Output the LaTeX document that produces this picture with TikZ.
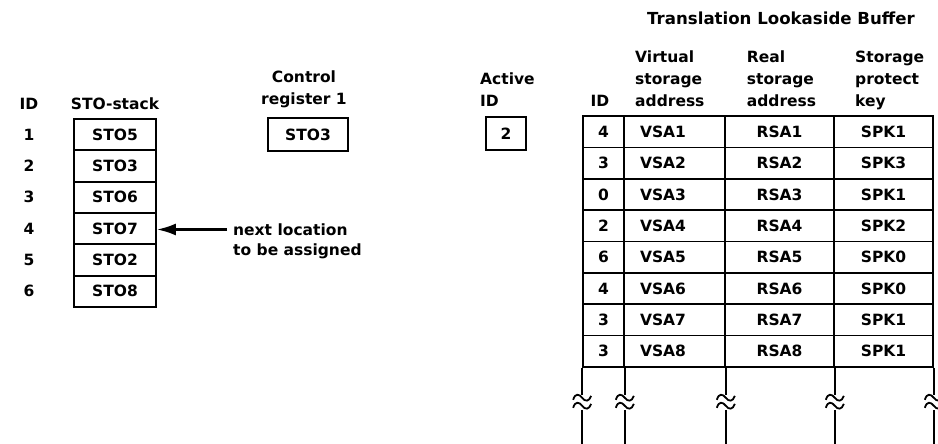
\documentclass[tikz,border=0pt]{standalone}
\usepackage{fontspec}
\setmainfont{DejaVu Sans}
\usetikzlibrary{arrows.meta}
\begin{document}
\begin{tikzpicture}[x=1pt,y=-1pt,
  every node/.style={font=\fontsize{15.5}{22}\selectfont\bfseries, inner sep=0pt},
  cell/.style={draw, line width=1.7pt, text height=11.3pt, text depth=0pt},
  stk/.style={cell, minimum width=82pt, minimum height=31.33pt},
  tid/.style={cell, minimum width=41pt, minimum height=31.375pt},
  tvsa/.style={cell, minimum width=101pt, minimum height=31.375pt, inner xsep=16pt, text width=69pt, align=left},
  trsa/.style={cell, minimum width=109pt, minimum height=31.375pt},
  tspk/.style={cell, minimum width=99pt, minimum height=31.375pt},
  hdr/.style={align=left, anchor=base west},
  ext/.style={line width=1.7pt},
  brk/.style={line width=1.8pt}
]
\useasboundingbox (0,0) rectangle (938,444);

% Left ID column and STO-stack
\node[anchor=base] (idl) at (29,110) {ID};
\node[anchor=base] (stoh) at (115,110) {STO-stack};
\foreach \i/\t in {1/STO5,2/STO3,3/STO6,4/STO7,5/STO2,6/STO8}{
  \node[stk] (s\i) at (115,{119+31.33*(\i-0.5)}) {\t};
  \node[text height=11.3pt, text depth=0pt] (n\i) at (29,{119+31.33*(\i-0.5)}) {\i};
}

% Control register 1
\node[align=center, anchor=base] (crh) at (304,104.5) {Control\\register 1};
\node[cell, minimum width=80pt, minimum height=33pt] (cr) at (308,134.5) {STO3};

% Active ID
\node[hdr] (aidh) at (480,106.7) {Active\\ID};
\node[cell, minimum width=40pt, minimum height=33pt] (aid) at (506,133.5) {2};

% next location arrow
\node[hdr, font=\fontsize{15.5}{20}\selectfont\bfseries] (nl) at (233,255) {next location\\to be assigned};
\coordinate (nlpt) at (227,229.5);
\draw[line width=2.4pt, -{Latex[length=19pt,width=12pt]}] (nlpt) -- (nlpt -| s4.east);

% TLB
\node[anchor=base, font=\fontsize{16.6}{22}\selectfont\bfseries] (tlbt) at (781,25) {Translation Lookaside Buffer};
\node[anchor=base] (tidh) at (600,106.7) {ID};
\node[hdr] (vh) at (635,106.7) {Virtual\\storage\\address};
\node[hdr] (rh) at (746.7,106.7) {Real\\storage\\address};
\node[hdr] (kh) at (855,106.7) {Storage\\protect\\key};

\foreach \r/\a/\b/\c/\d in {1/4/VSA1/RSA1/SPK1,2/3/VSA2/RSA2/SPK3,3/0/VSA3/RSA3/SPK1,4/2/VSA4/RSA4/SPK2,5/6/VSA5/RSA5/SPK0,6/4/VSA6/RSA6/SPK0,7/3/VSA7/RSA7/SPK1,8/3/VSA8/RSA8/SPK1}{
  \node[tid]  (t\r a) at (603.5,{116+31.375*(\r-0.5)}) {\a};
  \node[tvsa] (t\r b) at (674.5,{116+31.375*(\r-0.5)}) {\b};
  \node[trsa] (t\r c) at (779.5,{116+31.375*(\r-0.5)}) {\c};
  \node[tspk] (t\r d) at (883.5,{116+31.375*(\r-0.5)}) {\d};
}

% continuation lines with break marks
\foreach \n in {t8a.south west, t8a.south east, t8b.south east, t8c.south east, t8d.south east}{
  \draw[ext] (\n) -- ++(0,27);
  \draw[ext] (\n) ++(0,42) -- ++(0,40);
  \draw[brk] (\n) ++(-9,32) .. controls ++(2,-7) and ++(-3,-4) .. ++(9,-2)
                            .. controls ++(3,4) and ++(-2,6) .. ++(9,-2);
  \draw[brk] (\n) ++(-9,40) .. controls ++(2,-7) and ++(-3,-4) .. ++(9,-2)
                            .. controls ++(3,4) and ++(-2,6) .. ++(9,-2);
}
\end{tikzpicture}
\end{document}
